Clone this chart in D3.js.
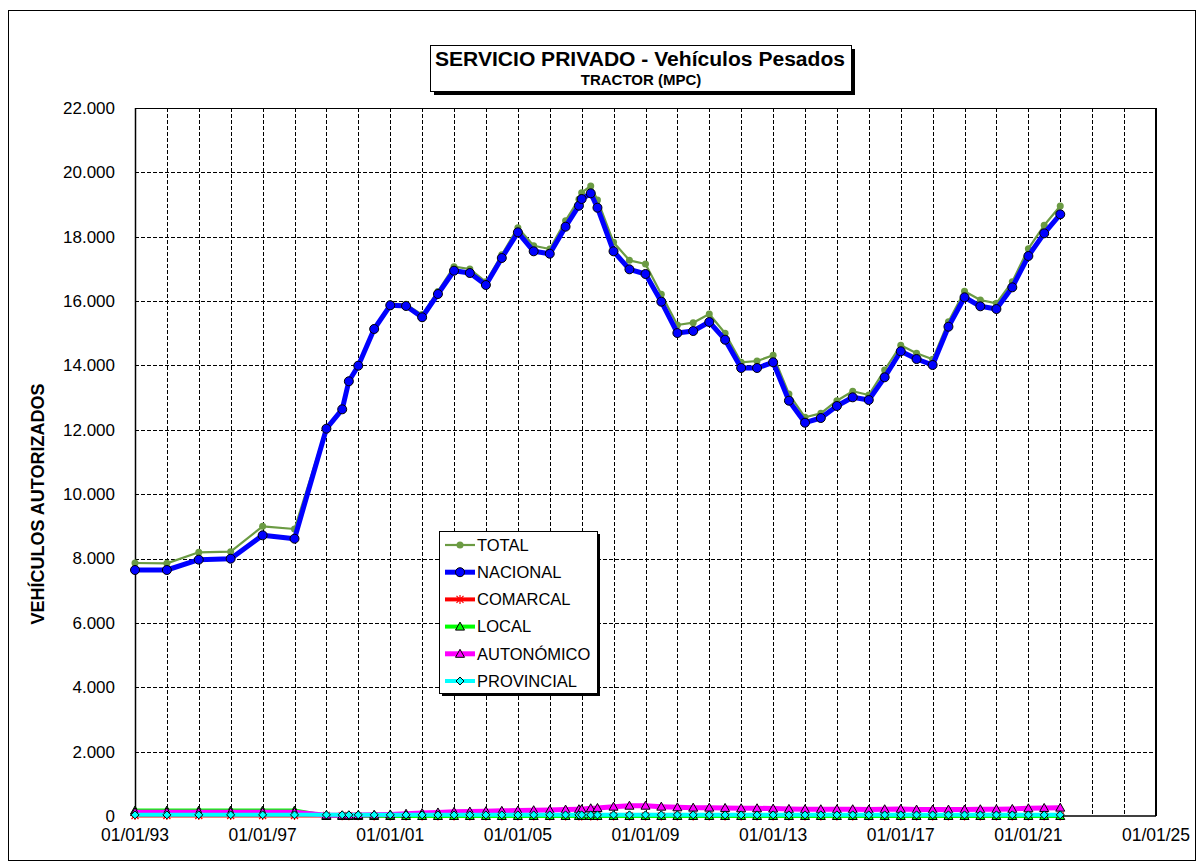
<!DOCTYPE html>
<html>
<head>
<meta charset="utf-8">
<script src="https://cdn.jsdelivr.net/npm/d3@7"></script>
<style>
  body { margin: 0; background: #fff; }
  svg { font-family: "Liberation Sans", Arial, sans-serif; }
</style>
</head>
<body>
<svg id="chart" width="1204" height="866"></svg>
<script>
// fechas de cada lectura (anual hasta 1998, semestral despues)
var dates = ["1993-01-01","1994-01-01","1995-01-01","1996-01-01","1997-01-01","1998-01-01",
  "1999-01-01","1999-07-01","1999-09-15","2000-01-01","2000-07-01","2001-01-01","2001-07-01",
  "2002-01-01","2002-07-01","2003-01-01","2003-07-01","2004-01-01","2004-07-01","2005-01-01",
  "2005-07-01","2006-01-01","2006-07-01","2006-12-01","2007-01-01","2007-04-15","2007-07-01",
  "2008-01-01","2008-07-01","2009-01-01","2009-07-01","2010-01-01","2010-07-01","2011-01-01",
  "2011-07-01","2012-01-01","2012-07-01","2013-01-01","2013-07-01","2014-01-01","2014-07-01",
  "2015-01-01","2015-07-01","2016-01-01","2016-07-01","2017-01-01","2017-07-01","2018-01-01",
  "2018-07-01","2019-01-01","2019-07-01","2020-01-01","2020-07-01","2021-01-01","2021-07-01",
  "2022-01-01"];

var total = [7862,7851,8194,8213,9002,8918,
  12060,12670,13540,14030,15170,15920,15900,
  15580,16300,17069,16997,16600,17442,18281,
  17721,17618,18498,19163,19368,19576,19141,
  17826,17267,17152,16211,15257,15329,15599,
  14999,14098,14138,14315,13113,12389,12513,
  12905,13197,13082,13859,14626,14377,14191,
  15360,16304,16034,15931,16603,17628,18355,
  18955];

var nacional = [7644,7644,7965,7995,8722,8617,
  12035,12637,13508,13993,15133,15869,15848,
  15497,16220,16944,16873,16500,17339,18137,
  17547,17472,18312,18964,19172,19349,18902,
  17547,16987,16842,15981,15008,15070,15350,
  14800,13921,13921,14098,12905,12221,12367,
  12740,13010,12926,13632,14440,14200,14014,
  15204,16118,15838,15754,16428,17401,18106,
  18697];

var comarcal = [15,15,15,15,15,15,
  15,10,10,5,0,0,0,
  0,0,0,0,0,0,0,
  0,0,0,0,0,0,0,
  0,0,0,0,0,0,0,
  0,0,0,0,0,0,0,
  0,0,0,0,0,0,0,
  0,0,0,0,0,0,0,
  0];

var local = [170,170,170,170,170,170,
  0,0,0,0,0,0,0,
  0,0,0,0,0,0,0,
  0,0,0,0,0,0,0,
  0,0,0,0,0,0,0,
  0,0,0,0,0,0,0,
  0,0,0,0,0,0,0,
  0,0,0,0,0,0,0,
  0];

var autonomico = [120,120,120,120,120,120,
  20,20,20,30,40,50,70,
  90,110,130,140,150,160,170,
  180,190,200,210,210,240,250,
  290,320,320,290,270,260,260,
  250,240,240,230,220,210,210,
  210,210,200,210,220,200,200,
  200,200,210,210,220,240,250,
  260];

var provincial = [35,35,35,35,35,35,
  35,35,35,35,35,35,35,
  35,35,35,35,35,35,35,
  35,35,35,35,35,35,35,
  35,35,35,35,35,35,35,
  35,35,35,35,35,35,35,
  35,35,35,35,35,35,35,
  35,35,35,35,35,35,35,
  35];

var yTicks = [0,2000,4000,6000,8000,10000,12000,14000,16000,18000,20000,22000];
var xTickYears = [1993,1997,2001,2005,2009,2013,2017,2021,2025];

var series = [
  {name: "TOTAL", values: total, color: "#6b9b43", width: 2.2, marker: "dot"},
  {name: "NACIONAL", values: nacional, color: "#0000ff", width: 5, marker: "circle"},
  {name: "COMARCAL", values: comarcal, color: "#ff0000", width: 4, marker: "star"},
  {name: "LOCAL", values: local, color: "#00ff00", width: 4, marker: "triangle"},
  {name: "AUTONÓMICO", values: autonomico, color: "#ff00ff", width: 5, marker: "triangle"},
  {name: "PROVINCIAL", values: provincial, color: "#00ffff", width: 4, marker: "diamond"}
];

var parse = d3.timeParse("%Y-%m-%d");
var svg = d3.select("#chart");

// marco exterior
svg.append("rect").attr("x", 8.5).attr("y", 10.5).attr("width", 1187).attr("height", 850)
  .attr("fill", "none").attr("stroke", "#000").attr("stroke-width", 1);

var margin = {top: 108, left: 135, right: 48, bottom: 50},
    width = 1204 - margin.left - margin.right,
    height = 866 - margin.top - margin.bottom;

var x = d3.scaleTime()
  .domain([new Date(1993, 0, 1), new Date(2025, 0, 1)])
  .range([0, width]);
var y = d3.scaleLinear().domain([0, 22000]).range([height, 0]);

var g = svg.append("g").attr("transform", "translate(" + margin.left + "," + margin.top + ")");

// rejilla
var years = d3.range(1994, 2025);
g.append("g").selectAll("line").data(years).enter().append("line")
  .attr("x1", function(d) { return Math.round(x(new Date(d, 0, 1))) + 0.5; })
  .attr("x2", function(d) { return Math.round(x(new Date(d, 0, 1))) + 0.5; })
  .attr("y1", 0).attr("y2", height)
  .attr("stroke", "#000").attr("stroke-width", 1).attr("stroke-dasharray", "4,2");

g.append("g").selectAll("line").data(yTicks.slice(1)).enter().append("line")
  .attr("x1", 0).attr("x2", width)
  .attr("y1", function(d) { return Math.round(y(d)) + 0.5; })
  .attr("y2", function(d) { return Math.round(y(d)) + 0.5; })
  .attr("stroke", "#000").attr("stroke-width", 1)
  .attr("stroke-dasharray", function(d) { return d == 22000 ? null : "4,2"; });

// ejes
g.append("line").attr("x1", 0.5).attr("x2", 0.5).attr("y1", 0).attr("y2", height)
  .attr("stroke", "#000").attr("stroke-width", 1.5);
g.append("line").attr("x1", width).attr("x2", width).attr("y1", 0).attr("y2", height)
  .attr("stroke", "#000").attr("stroke-width", 2);
g.append("line").attr("x1", 0).attr("x2", width).attr("y1", height).attr("y2", height)
  .attr("stroke", "#000").attr("stroke-width", 1.5);

var fmt = function(d) { return d3.format(",")(d).replace(/,/g, "."); };

g.append("g").selectAll("text").data(yTicks).enter().append("text")
  .attr("x", -20).attr("y", function(d) { return y(d); })
  .attr("dy", "0.35em").attr("text-anchor", "end")
  .style("font-size", "17px")
  .text(function(d) { return fmt(d); });

g.append("g").selectAll("text").data(xTickYears).enter().append("text")
  .attr("x", function(d) { return x(new Date(d, 0, 1)); })
  .attr("y", height + 25).attr("text-anchor", "middle")
  .style("font-size", "17.5px")
  .text(function(d) { return d3.timeFormat("%d/%m/%y")(new Date(d, 0, 1)); });

svg.append("text")
  .attr("transform", "translate(44,504) rotate(-90)")
  .attr("text-anchor", "middle")
  .style("font-size", "18px").style("font-weight", "bold")
  .text("VEHÍCULOS  AUTORIZADOS");

// titulo
svg.append("rect").attr("x", 434).attr("y", 49).attr("width", 421).attr("height", 46).attr("fill", "#000");
svg.append("rect").attr("x", 430.5).attr("y", 45.5).attr("width", 421).attr("height", 46)
  .attr("fill", "#fff").attr("stroke", "#000");
svg.append("text").attr("x", 640).attr("y", 66).attr("text-anchor", "middle")
  .attr("textLength", 410).attr("lengthAdjust", "spacingAndGlyphs")
  .style("font-size", "20px").style("font-weight", "bold")
  .text("SERVICIO PRIVADO - Vehículos Pesados");
svg.append("text").attr("x", 641).attr("y", 85).attr("text-anchor", "middle")
  .style("font-size", "15px").style("font-weight", "bold")
  .text("TRACTOR (MPC)");

function drawMarker(sel, s) {
  if (s.marker == "dot") {
    sel.append("circle").attr("r", 3.5).attr("fill", s.color);
  } else if (s.marker == "circle") {
    sel.append("circle").attr("r", 4.5).attr("fill", s.color).attr("stroke", "#000").attr("stroke-width", 1);
  } else if (s.marker == "triangle") {
    sel.append("path").attr("d", "M0,-4.5L4.5,3.5L-4.5,3.5Z")
      .attr("fill", s.color).attr("stroke", "#000").attr("stroke-width", 1);
  } else if (s.marker == "diamond") {
    sel.append("path").attr("d", "M0,-4L4,0L0,4L-4,0Z")
      .attr("fill", s.color).attr("stroke", "#000").attr("stroke-width", 1);
  } else if (s.marker == "star") {
    sel.append("path").attr("d", "M-3.5,-3.5L3.5,3.5M-3.5,3.5L3.5,-3.5M0,-4.5L0,4.5")
      .attr("stroke", s.color).attr("stroke-width", 1.2);
  }
}

var line = d3.line()
  .x(function(d) { return x(d.date); })
  .y(function(d) { return y(d.value); });

series.forEach(function(s) {
  var pts = dates.map(function(d, i) { return {date: parse(d), value: s.values[i]}; });
  var sg = g.append("g").attr("class", "serie");
  sg.append("path").datum(pts).attr("d", line)
    .attr("fill", "none").attr("stroke", s.color).attr("stroke-width", s.width)
    .attr("stroke-linejoin", "round");
  sg.selectAll(".pt").data(pts).enter().append("g").attr("class", "pt")
    .attr("transform", function(d) { return "translate(" + x(d.date) + "," + y(d.value) + ")"; })
    .each(function() { drawMarker(d3.select(this), s); });
});

// leyenda
var lg = svg.append("g").attr("transform", "translate(439,531)");
lg.append("rect").attr("x", 3).attr("y", 3).attr("width", 158).attr("height", 162).attr("fill", "#000");
lg.append("rect").attr("x", 0.5).attr("y", 0.5).attr("width", 158).attr("height", 162)
  .attr("fill", "#fff").attr("stroke", "#000");
var item = lg.selectAll(".legend").data(series).enter().append("g")
  .attr("class", "legend")
  .attr("transform", function(d, i) { return "translate(0," + (14 + i * 27.2) + ")"; });
item.append("line").attr("x1", 6).attr("x2", 36).attr("y1", 0).attr("y2", 0)
  .attr("stroke", function(d) { return d.color; })
  .attr("stroke-width", function(d) { return d.width; });
item.append("g").attr("transform", "translate(21,0)")
  .each(function(d) { drawMarker(d3.select(this), d); });
item.append("text").attr("x", 38).attr("y", 0).attr("dy", "0.35em")
  .style("font-size", "16.5px")
  .text(function(d) { return d.name; });
</script>
</body>
</html>
